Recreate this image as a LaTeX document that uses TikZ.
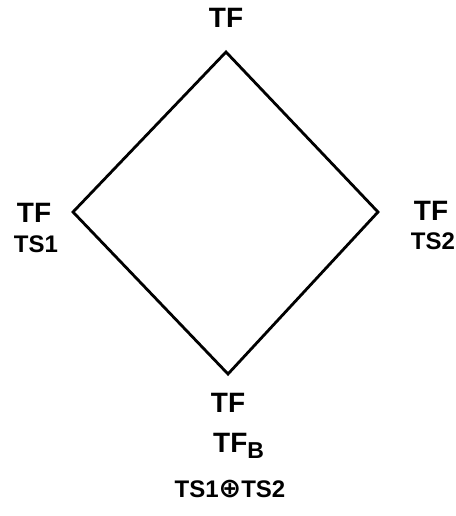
\documentclass[tikz,border=0pt]{standalone}
\usepackage{fontspec}
\setmainfont{Liberation Sans}
\newfontfamily\symfont{DejaVu Sans}
\begin{document}
\begin{tikzpicture}[x=1pt,y=-1pt,
  big/.style={inner sep=0pt,font=\fontsize{28}{30}\selectfont\bfseries},
  small/.style={inner sep=0pt,font=\fontsize{24}{26}\selectfont\bfseries},
  edge/.style={line width=2.8pt,line join=miter}]
\useasboundingbox (0,0) rectangle (455,516);
\coordinate (t) at (226,52);
\coordinate (l) at (73,212);
\coordinate (r) at (378,212);
\coordinate (b) at (228,374);
\draw[edge] (t) -- (r) -- (b) -- (l) -- cycle;
\node[big] (tt) at (226,18) {TF};
\node[big] (lt) at (34,213) {TF};
\node[small] (ls) at (36,244) {TS1};
\node[big] (rt) at (431,211) {TF};
\node[small] (rs) at (433,241) {TS2};
\node[big] (bt) at (228,403) {TF};
\node[big,anchor=base west] (bb) at (213,452) {TF\raisebox{-6pt}{\fontsize{23}{25}\selectfont\bfseries B}};
\node[small] (bs) at (230,489) {TS1{\symfont\fontsize{27}{28}\selectfont ⊕}TS2};
\end{tikzpicture}
\end{document}
